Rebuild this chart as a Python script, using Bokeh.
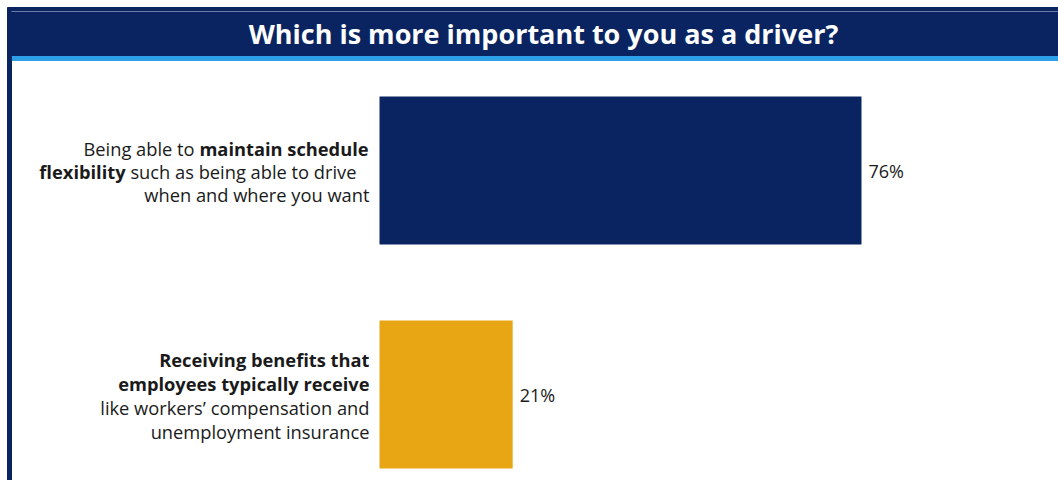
from bokeh.plotting import figure
from bokeh.models import Range1d
from bokeh.core.properties import value
from bokeh.embed import file_html
from bokeh.resources import INLINE

# ---- data ----
TITLE = "Which is more important to you as a driver?"
CATEGORIES = ["Maintain schedule flexibility", "Receiving employee benefits"]
VALUES = [76, 21]
VALUE_LABELS = ["76%", "21%"]
BAR_COLORS = ["#0A2461", "#E8A615"]

# category label pieces: (text, bold?)
LABEL_1 = [
    [("Being able to", False), ("maintain schedule", True)],
    [("flexibility", True), ("such as being able to drive", False)],
    [("when and where you want", False)],
]
LABEL_2 = [
    [("Receiving benefits that", True)],
    [("employees typically receive", True)],
    [("like workers\u2019 compensation and", False)],
    [("unemployment insurance", False)],
]

# ---- layout / style ----
W, H = 1058, 480
X0 = 379.0
PX_PER_PCT = 6.342
NAVY = "#0A2461"
FONT = "Open Sans"
FS = "18.3px"
TXT = "#1a1a1a"

p = figure(width=W, height=H, output_backend="svg", toolbar_location=None,
           x_range=Range1d(-X0 / PX_PER_PCT, (W - X0) / PX_PER_PCT),
           y_range=Range1d(H, 0),
           x_axis_location=None, y_axis_location=None, min_border=0)
p.extra_x_ranges = {"px": Range1d(0, W)}
p.grid.visible = False
p.outline_line_color = None
p.background_fill_color = "white"
p.border_fill_color = "white"

# header box and borders
p.quad(left=[7], right=[W], top=[7], bottom=[56], color=NAVY, x_range_name="px")
p.segment(x0=[11], x1=[W], y0=[11], y1=[11], line_color="#6B7BA6", line_width=1, x_range_name="px")
p.quad(left=[11], right=[W], top=[56], bottom=[60], color="#2E9FE6", x_range_name="px")
p.quad(left=[7], right=[11], top=[56], bottom=[H], color=NAVY, x_range_name="px")

p.text(x=[543], y=[33], text=[TITLE], text_color="white", text_font=value(FONT),
       text_font_style="bold", text_font_size="27px", text_align="center",
       text_baseline="middle", x_range_name="px")

# bars
BAR_Y = [170, 394]
p.hbar(y=BAR_Y, left=0, right=VALUES, height=148, fill_color=BAR_COLORS, line_color=None)
p.text(x=VALUES, y=BAR_Y, text=VALUE_LABELS, x_offset=7, text_font=value(FONT),
       text_font_size="18px", text_color=TXT, text_baseline="middle", text_align="left")

# category labels
RIGHT = 369
def draw_label(lines, ys, junctions):
    for pieces, y, j in zip(lines, ys, junctions):
        if len(pieces) == 1:
            t, b = pieces[0]
            p.text(x=[RIGHT], y=[y], text=[t], text_font=value(FONT), text_font_size=FS,
                   text_font_style="bold" if b else "normal", text_color=TXT,
                   text_align="right", text_baseline="middle", x_range_name="px")
        else:
            (t1, b1), (t2, b2) = pieces
            p.text(x=[j - 2.4], y=[y], text=[t1], text_font=value(FONT), text_font_size=FS,
                   text_font_style="bold" if b1 else "normal", text_color=TXT,
                   text_align="right", text_baseline="middle", x_range_name="px")
            p.text(x=[j + 2.4], y=[y], text=[t2], text_font=value(FONT), text_font_size=FS,
                   text_font_style="bold" if b2 else "normal", text_color=TXT,
                   text_align="left", text_baseline="middle", x_range_name="px")

draw_label(LABEL_1, [148, 171, 194], [196.5, 127.5, None])
draw_label(LABEL_2, [359, 383, 407, 431], [None] * 4)

open("out.html", "w").write(file_html(p, INLINE))
